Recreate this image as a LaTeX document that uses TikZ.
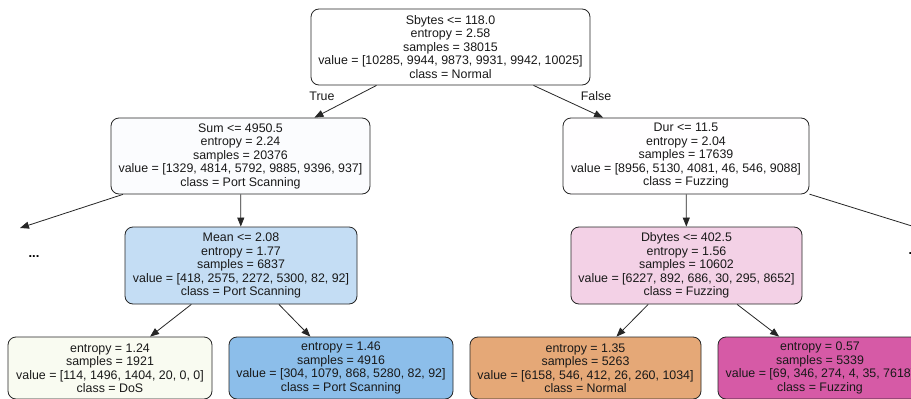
\documentclass[tikz,border=0pt]{standalone}
\usepackage{fontspec}
\setmainfont{Liberation Sans}
\usetikzlibrary{arrows.meta}
\definecolor{cRoot}{HTML}{FFFFFF}
\definecolor{cSum}{HTML}{FBFCFE}
\definecolor{cDur}{HTML}{FFFEFF}
\definecolor{cMean}{HTML}{C4DDF4}
\definecolor{cDbytes}{HTML}{F3D1E6}
\definecolor{cDoS}{HTML}{F9FBF1}
\definecolor{cPS}{HTML}{8CBEEA}
\definecolor{cNormal}{HTML}{E5A877}
\definecolor{cFuzz}{HTML}{D65AA6}
\definecolor{cLine}{HTML}{262626}
\tikzset{
  tnode/.style={draw=cLine, line width=0.8pt, rounded corners=8pt, align=center,
    inner sep=0pt, text=black!90, font=\fontsize{12.4}{13.5}\selectfont},
  inner/.style={tnode, minimum height=76pt},
  leaf/.style={tnode, minimum height=62pt},
  edge/.style={draw=cLine, line width=0.8pt, -{Triangle[length=9pt,width=7pt]}},
  lbl/.style={inner sep=0pt, text=black!90, font=\fontsize{12.4}{13.5}\selectfont},
  dotsnode/.style={inner sep=0pt, text=black, font=\fontsize{13}{14}\selectfont\bfseries}
}
\begin{document}
\begin{tikzpicture}[x=1pt,y=-1pt]
\useasboundingbox (0,0) rectangle (911,399);
\clip (0,0) rectangle (911,399);
\fill[white] (0,0) rectangle (911,399);

\node[inner, fill=cRoot, minimum width=279pt] (root) at (450.5,47)
  {Sbytes <= 118.0\\entropy = 2.58\\samples = 38015\\value = [10285, 9944, 9873, 9931, 9942, 10025]\\class = Normal};

\node[inner, fill=cSum, minimum width=259pt] (sum) at (240.5,156)
  {Sum <= 4950.5\\entropy = 2.24\\samples = 20376\\value = [1329, 4814, 5792, 9885, 9396, 937]\\class = Port Scanning};

\node[inner, fill=cDur, minimum width=246pt] (dur) at (686,156)
  {Dur <= 11.5\\entropy = 2.04\\samples = 17639\\value = [8956, 5130, 4081, 46, 546, 9088]\\class = Fuzzing};

\node[inner, fill=cMean, minimum width=232pt, minimum height=77pt] (mean) at (241,265.5)
  {Mean <= 2.08\\entropy = 1.77\\samples = 6837\\value = [418, 2575, 2272, 5300, 82, 92]\\class = Port Scanning};

\node[inner, fill=cDbytes, minimum width=231pt, minimum height=77pt] (dbytes) at (686.5,265.5)
  {Dbytes <= 402.5\\entropy = 1.56\\samples = 10602\\value = [6227, 892, 686, 30, 295, 8652]\\class = Fuzzing};

\node[leaf, fill=cDoS, minimum width=204pt] (dos) at (110,368)
  {entropy = 1.24\\samples = 1921\\value = [114, 1496, 1404, 20, 0, 0]\\class = DoS};

\node[leaf, fill=cPS, minimum width=224pt] (ps) at (341,368)
  {entropy = 1.46\\samples = 4916\\value = [304, 1079, 868, 5280, 82, 92]\\class = Port Scanning};

\node[leaf, fill=cNormal, minimum width=231pt] (normal) at (585.5,368)
  {entropy = 1.35\\samples = 5263\\value = [6158, 546, 412, 26, 260, 1034]\\class = Normal};

\node[leaf, fill=cFuzz, minimum width=204pt] (fuzz) at (820,368)
  {entropy = 0.57\\samples = 5339\\value = [69, 346, 274, 4, 35, 7618]\\class = Fuzzing};

\node[dotsnode] (ldots) at (34,257) {...};
\node[dotsnode] (rdots) at (914,254) {...};
\coordinate (lend) at (20,228);
\coordinate (rend) at (928,231);

\node[lbl] (tlabel) at (322,96) {True};
\node[lbl] (flabel) at (596,96) {False};

\draw[edge] (root) -- (sum);
\draw[edge] (root) -- (dur);
\draw[edge] (sum) -- (lend);
\draw[edge] (sum) -- (mean);
\draw[edge] (dur) -- (dbytes);
\draw[edge] (dur) -- (rend);
\draw[edge] (mean) -- (dos);
\draw[edge] (mean) -- (ps);
\draw[edge] (dbytes) -- (normal);
\draw[edge] (dbytes) -- (fuzz);
\end{tikzpicture}
\end{document}
